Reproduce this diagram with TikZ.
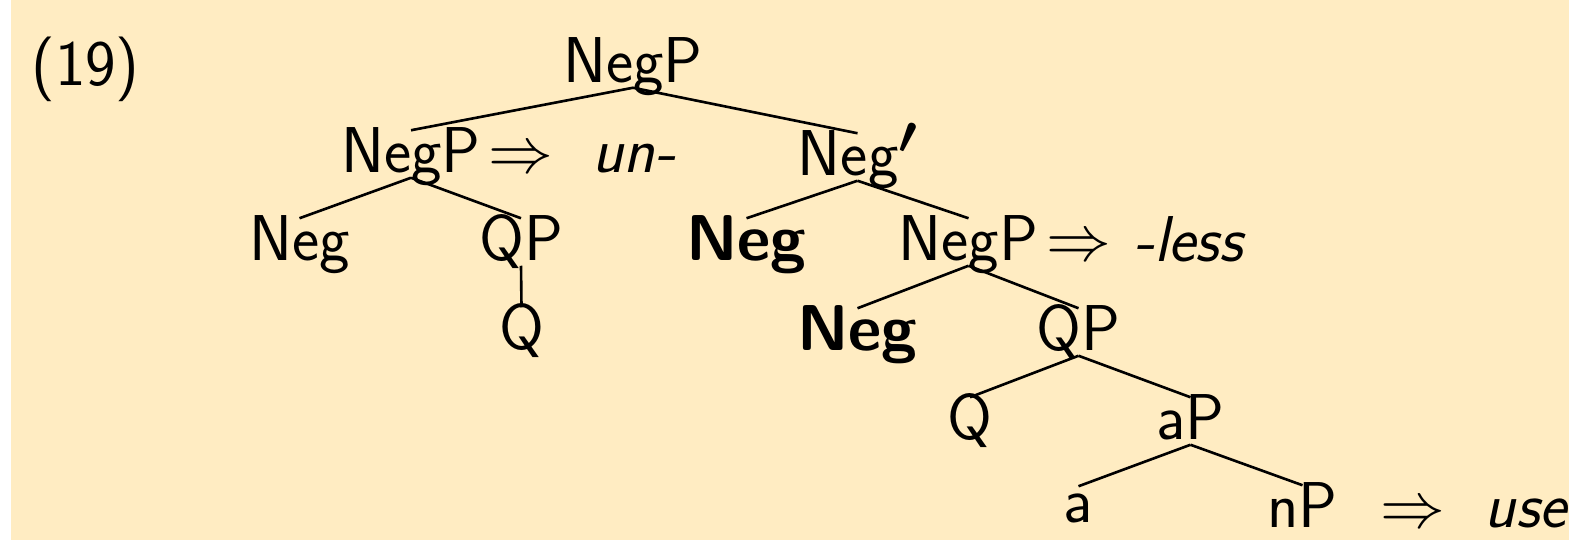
\documentclass[tikz,border=0pt]{standalone}
\usepackage{amsmath}

\tikzset{
  lab/.style={anchor=base, inner xsep=0pt, inner ysep=1.333pt,
    text height=9.6pt, text depth=0pt,
    font=\sffamily\fontsize{17.28}{20}\selectfont},
  branch/.style={draw, line width=0.7pt}
}
\definecolor{panel}{RGB}{255,236,194}
% bar-level prime, heavier and a little larger than a plain superscript
\newcommand{\barprime}{\raisebox{0.33em}{\fontsize{15}{16}\selectfont\boldmath$\prime$}}

\begin{document}
\begin{tikzpicture}[x=0.26667pt, y=-0.26667pt]
  \useasboundingbox (0,0) rectangle (1569,540);
  \fill[panel] (11,0) rectangle (1569,540);

  % example number
  \node[lab] (ex) at (85.5,85) {(19)};

  % tree nodes
  \node[lab] (root)  at (633,82)    {NegP};
  \node[lab] (negp2) at (411,172)   {NegP};
  \node[lab] (arr1)  at (521,172)   {$\Rightarrow$};
  \node[lab] (un)    at (634,172)   {\textit{un-}};
  \node[lab] (negbar) at (857.5,175) {Neg\barprime};

  \node[lab] (neg1)  at (299.5,260) {Neg};
  \node[lab] (qp1)   at (521,260)   {QP};
  \node[lab] (q1)    at (521.5,349) {Q};

  \node[lab] (negb1) at (746.5,260) {\textbf{Neg}};
  \node[lab] (negp3) at (968.5,260) {NegP};
  \node[lab] (arr2)  at (1079,260)  {$\Rightarrow$};
  \node[lab] (less)  at (1190,261)  {\textit{-less}};

  \node[lab] (negb2) at (857.5,350) {\textbf{Neg}};
  \node[lab] (qp2)   at (1078.5,350) {QP};

  \node[lab] (q2)    at (970,439)   {Q};
  \node[lab] (ap)    at (1190.5,439) {aP};

  \node[lab, text height=8pt] (a) at (1078.5,522) {a};
  \node[lab] (np)    at (1302.5,527) {nP};
  \node[lab] (arr3)  at (1413,527)  {$\Rightarrow$};
  \node[lab] (use)   at (1527,527)  {\textit{use}};

  % branches
  \path[branch] (root.south) -- (negp2.north);
  \path[branch] (root.south) -- (negbar.north);
  \path[branch] (negp2.south) -- (neg1.north);
  \path[branch] (negp2.south) -- (qp1.north);
  \path[branch] (qp1.south) -- (q1.north);
  \path[branch] (negbar.south) -- (negb1.north);
  \path[branch] (negbar.south) -- (negp3.north);
  \path[branch] (negp3.south) -- (negb2.north);
  \path[branch] (negp3.south) -- (qp2.north);
  \path[branch] (qp2.south) -- (q2.north);
  \path[branch] (qp2.south) -- (ap.north);
  \path[branch] (ap.south) -- (a.north);
  \path[branch] (ap.south) -- (np.north);
\end{tikzpicture}
\end{document}
